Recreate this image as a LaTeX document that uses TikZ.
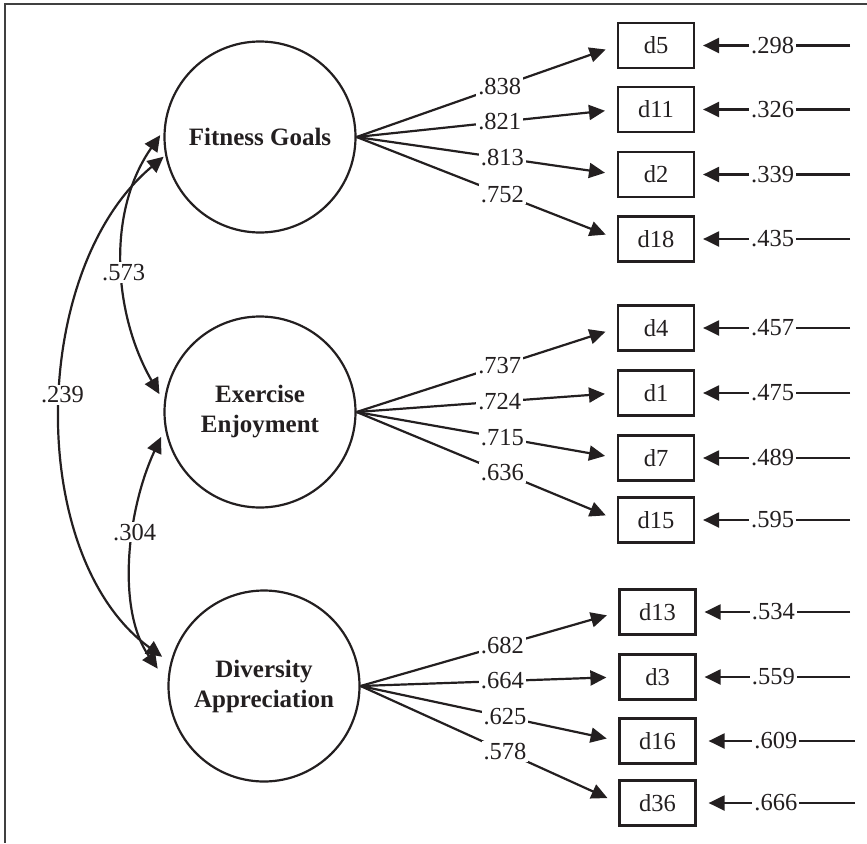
\documentclass[tikz,border=0pt]{standalone}
\usepackage{fontspec}
\setmainfont{Liberation Serif}
\usetikzlibrary{positioning,arrows.meta}
\definecolor{ink}{HTML}{231F20}

\begin{document}
\begin{tikzpicture}[x=1pt,y=1pt,line width=2.2pt,color=ink,
  >={Triangle[length=16pt,width=15pt]},
  latent/.style={circle,draw,minimum size=191pt,inner sep=0pt,align=center,font=\fontsize{25pt}{30pt}\selectfont\bfseries},
  ind/.style={rectangle,draw,minimum width=76pt,minimum height=45pt,inner sep=0pt,font=\fontsize{24.5pt}{28pt}\selectfont},
  lbl/.style={fill=white,inner sep=2pt,font=\fontsize{24.5pt}{28pt}\selectfont},
  load/.style={->,shorten >=12pt},
  err/.style={->,shorten >=8pt},
  cov/.style={<->}]
\useasboundingbox (0,0) rectangle (867,-843);
\draw[line width=2.2pt,black!75] (867,-4) -- (5,-4) -- (5,-843);
% ---- factors ----
\node[latent] (fg) at (260,-137) {Fitness Goals};
\node[latent] (ee) at (260,-412) {Exercise\\Enjoyment};
\node[latent] (da) at (264,-686) {Diversity\\Appreciation};
% ---- indicators ----
\node[ind] (d5) at (656,-45.5) {d5};
\node[ind] (d11) at (656,-109.5) {d11};
\node[ind] (d2) at (656,-174.5) {d2};
\node[ind] (d18) at (656,-239) {d18};
\node[ind] (d4) at (656,-328) {d4};
\node[ind] (d1) at (656,-393) {d1};
\node[ind] (d7) at (656,-458) {d7};
\node[ind] (d15) at (656,-520) {d15};
\node[ind] (d13) at (657.5,-612) {d13};
\node[ind] (d3) at (657.5,-677) {d3};
\node[ind] (d16) at (657.5,-741) {d16};
\node[ind] (d36) at (657.5,-803) {d36};
% ---- loadings ----
\draw[load] (fg.east) -- (d5.west) node[lbl,pos=0.55] {.838};
\draw[load] (fg.east) -- (d11.west) node[lbl,pos=0.55] {.821};
\draw[load] (fg.east) -- (d2.west) node[lbl,pos=0.56] {.813};
\draw[load] (fg.east) -- (d18.west) node[lbl,pos=0.56] {.752};
\draw[load] (ee.east) -- (d4.west) node[lbl,pos=0.55] {.737};
\draw[load] (ee.east) -- (d1.west) node[lbl,pos=0.55] {.724};
\draw[load] (ee.east) -- (d7.west) node[lbl,pos=0.56] {.715};
\draw[load] (ee.east) -- (d15.west) node[lbl,pos=0.56] {.636};
\draw[load] (da.east) -- (d13.west) node[lbl,pos=0.55] {.682};
\draw[load] (da.east) -- (d3.west) node[lbl,pos=0.55] {.664};
\draw[load] (da.east) -- (d16.west) node[lbl,pos=0.56] {.625};
\draw[load] (da.east) -- (d36.west) node[lbl,pos=0.56] {.578};
% ---- error terms ----
\coordinate[right=155pt of d5.east] (r5);
\coordinate[right=155pt of d11.east] (r11);
\coordinate[right=155pt of d2.east] (r2);
\coordinate[right=155pt of d18.east] (r18);
\coordinate[right=155pt of d4.east] (r4);
\coordinate[right=155pt of d1.east] (r1);
\coordinate[right=155pt of d7.east] (r7);
\coordinate[right=155pt of d15.east] (r15);
\coordinate[right=153.5pt of d13.east] (r13);
\coordinate[right=153.5pt of d3.east] (r3);
\coordinate[right=158.5pt of d16.east] (r16);
\coordinate[right=158.5pt of d36.east] (r36);
\draw[err] (r5) -- (d5.east) node[lbl,pos=0.5] {.298};
\draw[err] (r11) -- (d11.east) node[lbl,pos=0.5] {.326};
\draw[err] (r2) -- (d2.east) node[lbl,pos=0.5] {.339};
\draw[err] (r18) -- (d18.east) node[lbl,pos=0.5] {.435};
\draw[err] (r4) -- (d4.east) node[lbl,pos=0.5] {.457};
\draw[err] (r1) -- (d1.east) node[lbl,pos=0.5] {.475};
\draw[err] (r7) -- (d7.east) node[lbl,pos=0.5] {.489};
\draw[err] (r15) -- (d15.east) node[lbl,pos=0.5] {.595};
\draw[err] (r13) -- (d13.east) node[lbl,pos=0.5] {.534};
\draw[err] (r3) -- (d3.east) node[lbl,pos=0.5] {.559};
\draw[err,shorten >=12pt] (r16) -- (d16.east) node[lbl,pos=0.5] {.609};
\draw[err,shorten >=12pt] (r36) -- (d36.east) node[lbl,pos=0.5] {.666};
% ---- correlations ----
\draw[cov,shorten <=6pt,shorten >=9pt] (fg.176) to[out=235,in=120,looseness=0.95] node[lbl,pos=0.53] {.573} (ee.174);
\draw[cov,shorten <=9pt,shorten >=17pt] (ee.190) to[out=245,in=125,looseness=0.9] node[lbl,pos=0.4] {.304} (da.178);
\draw[cov,shorten <=2pt,shorten >=10pt] (fg.191) to[out=220,in=144,looseness=0.9] node[lbl,pos=0.47] {.239} (da.166);
\end{tikzpicture}
\end{document}
